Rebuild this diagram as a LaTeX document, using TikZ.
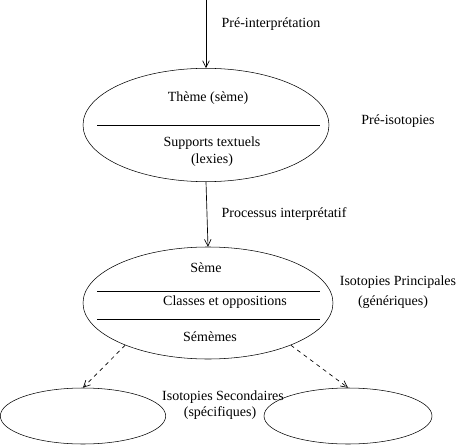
\documentclass[tikz,border=0pt]{standalone}
\usepackage{fontspec}
\setmainfont{Liberation Serif}
\usepackage{tikz}
\usetikzlibrary{positioning,shapes.geometric,arrows.meta}

\tikzset{
  bulle/.style={draw, ellipse, inner sep=0pt},
  fleche/.style={-{Straight Barb[length=5pt,width=5pt]}, line width=0.5pt},
  fleche tiret/.style={fleche, dashed},
  texte/.style={font=\fontsize{10.5}{12}\selectfont, inner sep=0pt}
}

\begin{document}
\begin{tikzpicture}[x=0.75pt,y=0.75pt,yscale=-1,xscale=1]
\useasboundingbox (0,0) rectangle (456,445);

%Ellipses
\node [bulle, minimum width=184.5pt, minimum height=85pt] (preiso) at (206,125) {};
\node [bulle, minimum width=187.5pt, minimum height=84pt] (princ) at (208,303) {};
\node [bulle, minimum width=124pt, minimum height=42pt] (secg) at (83,416) {};
\node [bulle, minimum width=126pt, minimum height=42pt] (secd) at (348,416) {};

%Straight Lines
\draw    (97,125) -- (320,125) ;
\draw    (97,291) -- (320,291) ;
\draw    (97,319) -- (320,319) ;

%Arrows
\coordinate (entree) at (206,0);
\draw [fleche] (entree) -- (preiso.north) ;
\draw [fleche] (preiso.south) -- (princ.north) ;
\draw [fleche tiret] (princ.207) -- (secg.north) ;
\draw [fleche tiret] (princ.333) -- (secd.north) ;

% Text Node
\node [texte] (preinterp) at (271,24) {Pré-interprétation};
% Text Node
\node [texte] (theme) at (208,98) {Thème (sème)};
% Text Node
\node [texte] (supports) at (212,143) {Supports textuels};
% Text Node
\node [texte] (lexies) at (212,160) {(lexies)};
% Text Node
\node [texte] (preisotxt) at (398,121) {Pré-isotopies};
% Text Node
\node [texte] (processus) at (284,214) {Processus interprétatif};
% Text Node
\node [texte] (seme) at (206,268) {Sème};
% Text Node
\node [texte] (classes) at (225,302) {Classes et oppositions};
% Text Node
\node [texte] (sememes) at (210,337) {Sémèmes};
% Text Node
\node [texte] (principales) at (398,282) {Isotopies Principales};
% Text Node
\node [texte] (generiques) at (393,302) {(génériques)};
% Text Node
\node [texte] (secondaires) at (223,397) {Isotopies Secondaires};
% Text Node
\node [texte] (specifiques) at (220,413) {(spécifiques)};
\end{tikzpicture}
\end{document}
